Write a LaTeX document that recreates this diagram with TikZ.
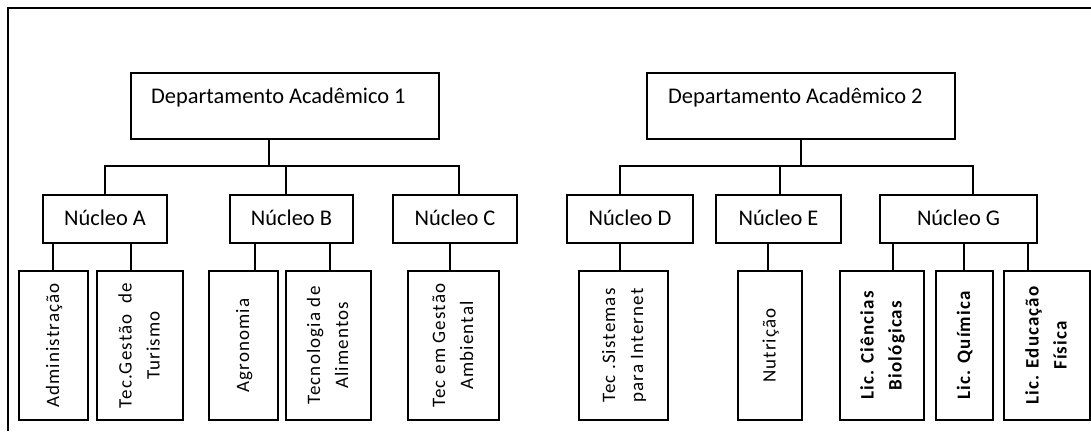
\documentclass[tikz,border=0pt]{standalone}
\usepackage{fontspec}
\setmainfont{Carlito}
\newfontfamily\leaffont{Carlito}[LetterSpace=6]
\usepackage{graphicx}
\tikzset{
  ln/.style={line width=2.4bp},
  box/.style={draw, line width=2.4bp, inner sep=0pt, rectangle},
  depttext/.style={font=\fontsize{22.4bp}{26bp}\selectfont, anchor=base west, inner sep=0pt},
  nuc/.style={box, font=\fontsize{22.4bp}{26bp}\selectfont, text height=12bp, text depth=0pt},
  leaf/.style={box, font=\leaffont\fontsize{19bp}{28bp}\selectfont},
  leafb/.style={box, font=\leaffont\bfseries\fontsize{19bp}{28bp}\selectfont},
}
\newcommand\vtxt[1]{\rotatebox{90}{\begin{tabular}{@{}c@{}}#1\end{tabular}}}
\newcommand\mybox[7]{\node[#2, minimum width={(#5-#3)*1bp}, minimum height={(#6-#4)*1bp}] (#1) at ({(#3+#5)/2},{(#4+#6)/2}) {#7};}
\begin{document}
\begin{tikzpicture}[x=1bp,y=-1bp]
\useasboundingbox (0,0) rectangle (1091,431);
% frame
\coordinate (fr) at (1091,8);
\coordinate (fc) at (8,8);
\coordinate (fb) at (8,431);
\draw[ln] (fr) -- (fc) -- (fb);

% departments
\mybox{d1}{box}{131}{73}{439}{139}{}
\mybox{d2}{box}{647}{73}{955}{139}{}
\node[depttext] (d1t) at (151,103) {Departamento Acadêmico 1};
\node[depttext] (d2t) at (668,103) {Departamento Acadêmico 2};

% nuclei
\mybox{nA}{nuc}{43}{195}{167}{243}{Núcleo A}
\mybox{nB}{nuc}{230}{195}{353}{243}{Núcleo B}
\mybox{nC}{nuc}{393}{195}{517}{243}{Núcleo C}
\mybox{nD}{nuc}{567}{195}{693}{243}{Núcleo D}
\mybox{nE}{nuc}{716}{195}{841}{243}{Núcleo E}
\mybox{nG}{nuc}{880}{195}{1037}{243}{Núcleo G}

% leaves
\mybox{adm}{leaf}{19}{271}{88}{420}{\vtxt{Administração}}
\mybox{tur}{leaf}{97}{271}{183}{420}{\vtxt{Tec.Gestão\ \ de\\Turismo}}
\mybox{agr}{leaf}{209}{271}{278}{420}{\vtxt{Agronomia}}
\mybox{ali}{leaf}{286}{271}{371}{420}{\vtxt{Tecnologia de\\Alimentos}}
\mybox{amb}{leaf}{408}{271}{499}{420}{\vtxt{Tec em Gestão\\Ambiental}}
\mybox{sis}{leaf}{579}{271}{668}{420}{\vtxt{Tec .Sistemas\\para Internet}}
\mybox{nut}{leaf}{738}{271}{802}{420}{\vtxt{Nutrição}}
\mybox{bio}{leafb}{840}{271}{924}{420}{\vtxt{Lic. Ciências\\Biológicas}}
\mybox{qui}{leafb}{936}{271}{993}{420}{\vtxt{Lic. Química}}
\mybox{edu}{leafb}{1004}{271}{1090}{420}{\vtxt{Lic. Educação\\Física}}

% junction points
\coordinate (j1) at (269,166);
\coordinate (j2) at (801,166);

% tree 1
\draw[ln] (d1.south -| j1) -- (j1);
\draw[ln] (nA.north) |- ([xshift=4bp]nC.north |- j1) -- ([xshift=4bp]nC.north);
\draw[ln] ([xshift=-5.5bp]nB.north) -- ([xshift=-5.5bp]nB.north |- j1);

% tree 2
\draw[ln] (d2.south) -- (j2);
\draw[ln] ([xshift=-10bp]nD.north) |- ([xshift=14.5bp]nG.north |- j2) -- ([xshift=14.5bp]nG.north);
\draw[ln] ([xshift=1.5bp]nE.north) -- ([xshift=1.5bp]nE.north |- j2);

% nucleus to leaves (drop points on the nucleus bottoms)
\foreach \lf/\nu/\xx in {adm/nA/53, tur/nA/131, agr/nB/255, ali/nB/330, amb/nC/450,
                         sis/nD/620, nut/nE/768, bio/nG/893, qui/nG/964, edu/nG/1028}{
  \coordinate (p-\lf) at (\xx,243);
  \draw[ln] (p-\lf |- \nu.south) -- (p-\lf |- \lf.north);
}
\end{tikzpicture}
\end{document}
